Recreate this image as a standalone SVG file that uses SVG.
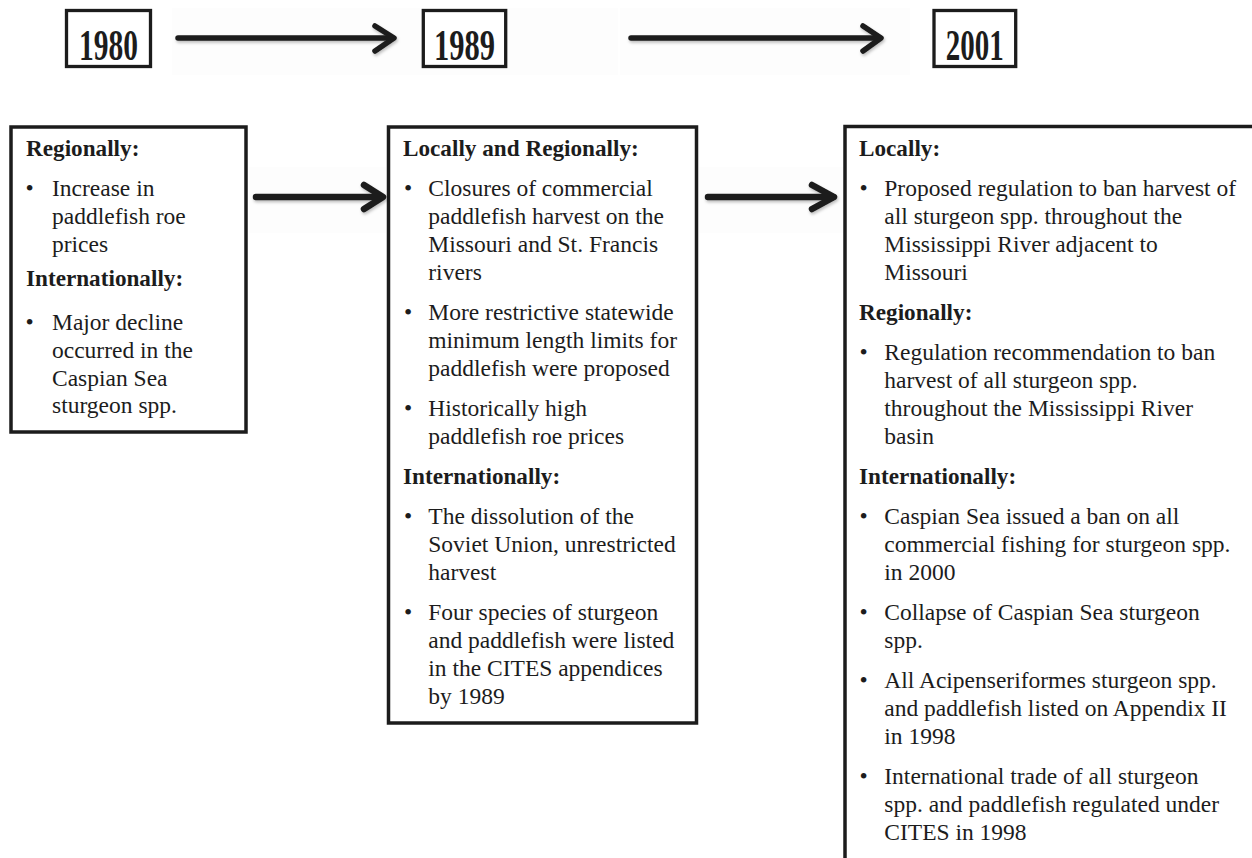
<svg xmlns="http://www.w3.org/2000/svg" width="1252" height="858" viewBox="0 0 1252 858">
<style>
  text { font-family: "Liberation Serif", "Times New Roman", serif; fill: #1c1c1c; }
  .h { font-size: 23.2px; font-weight: bold; }
  .b { font-size: 23.5px; }
  .yr { font-size: 45px; font-weight: bold; text-anchor: middle; }
  .bul { text-anchor: middle; font-size: 23.5px; }
  .box { fill: #ffffff; stroke: #1c1c1c; stroke-width: 3.5; }
  .ybox { fill: #ffffff; stroke: #1c1c1c; stroke-width: 3.3; }
  .arr { fill: none; stroke: #1c1c1c; stroke-linecap: round; stroke-linejoin: round; }
  .bg { fill: #fdfdfd; }
</style>
<defs>
  <filter id="sh" x="-10%" y="-50%" width="120%" height="200%">
    <feDropShadow dx="1" dy="2" stdDeviation="1.5" flood-color="#000" flood-opacity="0.25"/>
  </filter>
</defs>
<rect width="1252" height="858" fill="#ffffff"/>
<!-- faint backgrounds behind arrows -->
<rect class="bg" x="172" y="8" width="446" height="67"/>
<rect class="bg" x="620" y="8" width="290" height="67"/>
<rect class="bg" x="249" y="167" width="137" height="66"/>
<rect class="bg" x="699" y="167" width="144" height="66"/>

<g id="year-1980">
  <rect class="ybox" x="66.5" y="10.5" width="84" height="56"/>
  <text class="yr" x="108.5" y="60" textLength="59" lengthAdjust="spacingAndGlyphs">1980</text>
</g>
<g id="year-1989">
  <rect class="ybox" x="423.3" y="10.5" width="82.4" height="56"/>
  <text class="yr" x="464.5" y="60" textLength="61" lengthAdjust="spacingAndGlyphs">1989</text>
</g>
<g id="year-2001">
  <rect class="ybox" x="934" y="10.5" width="81.7" height="56"/>
  <text class="yr" x="974.8" y="60" textLength="58" lengthAdjust="spacingAndGlyphs">2001</text>
</g>

<g id="box-1980">
  <rect class="box" x="11" y="127" width="235" height="305"/>
  <text class="h" x="26" y="156">Regionally:</text>
  <text class="bul" x="29.5" y="196">•</text>
  <text class="b" x="52" y="196">Increase in</text>
  <text class="b" x="52" y="224">paddlefish roe</text>
  <text class="b" x="52" y="252">prices</text>
  <text class="h" x="26" y="286">Internationally:</text>
  <text class="bul" x="29.5" y="330">•</text>
  <text class="b" x="52" y="330">Major decline</text>
  <text class="b" x="52" y="358">occurred in the</text>
  <text class="b" x="52" y="386">Caspian Sea</text>
  <text class="b" x="52" y="413">sturgeon spp.</text>
</g>

<g id="box-1989">
  <rect class="box" x="388.5" y="127" width="308" height="596"/>
  <text class="h" x="403" y="156">Locally and Regionally:</text>
  <text class="bul" x="408" y="196">•</text>
  <text class="b" x="428.3" y="196">Closures of commercial</text>
  <text class="b" x="428.3" y="224">paddlefish harvest on the</text>
  <text class="b" x="428.3" y="252">Missouri and St. Francis</text>
  <text class="b" x="428.3" y="280">rivers</text>
  <text class="bul" x="408" y="320">•</text>
  <text class="b" x="428.3" y="320">More restrictive statewide</text>
  <text class="b" x="428.3" y="348">minimum length limits for</text>
  <text class="b" x="428.3" y="376">paddlefish were proposed</text>
  <text class="bul" x="408" y="416">•</text>
  <text class="b" x="428.3" y="416">Historically high</text>
  <text class="b" x="428.3" y="444">paddlefish roe prices</text>
  <text class="h" x="403" y="484">Internationally:</text>
  <text class="bul" x="408" y="524">•</text>
  <text class="b" x="428.3" y="524">The dissolution of the</text>
  <text class="b" x="428.3" y="552">Soviet Union, unrestricted</text>
  <text class="b" x="428.3" y="580">harvest</text>
  <text class="bul" x="408" y="620">•</text>
  <text class="b" x="428.3" y="620">Four species of sturgeon</text>
  <text class="b" x="428.3" y="648">and paddlefish were listed</text>
  <text class="b" x="428.3" y="676">in the CITES appendices</text>
  <text class="b" x="428.3" y="704">by 1989</text>
</g>

<g id="box-2001">
  <path class="box" d="M 1253 126.5 H 845 V 859" fill="none"/>
  <text class="h" x="859" y="156">Locally:</text>
  <text class="bul" x="863.5" y="196">•</text>
  <text class="b" x="884.3" y="196">Proposed regulation to ban harvest of</text>
  <text class="b" x="884.3" y="224">all sturgeon spp. throughout the</text>
  <text class="b" x="884.3" y="252">Mississippi River adjacent to</text>
  <text class="b" x="884.3" y="280">Missouri</text>
  <text class="h" x="859" y="320">Regionally:</text>
  <text class="bul" x="863.5" y="360">•</text>
  <text class="b" x="884.3" y="360">Regulation recommendation to ban</text>
  <text class="b" x="884.3" y="388">harvest of all sturgeon spp.</text>
  <text class="b" x="884.3" y="416">throughout the Mississippi River</text>
  <text class="b" x="884.3" y="444">basin</text>
  <text class="h" x="859" y="484">Internationally:</text>
  <text class="bul" x="863.5" y="524">•</text>
  <text class="b" x="884.3" y="524">Caspian Sea issued a ban on all</text>
  <text class="b" x="884.3" y="552">commercial fishing for sturgeon spp.</text>
  <text class="b" x="884.3" y="580">in 2000</text>
  <text class="bul" x="863.5" y="620">•</text>
  <text class="b" x="884.3" y="620">Collapse of Caspian Sea sturgeon</text>
  <text class="b" x="884.3" y="648">spp.</text>
  <text class="bul" x="863.5" y="688">•</text>
  <text class="b" x="884.3" y="688">All Acipenseriformes sturgeon spp.</text>
  <text class="b" x="884.3" y="716">and paddlefish listed on Appendix II</text>
  <text class="b" x="884.3" y="744">in 1998</text>
  <text class="bul" x="863.5" y="784">•</text>
  <text class="b" x="884.3" y="784">International trade of all sturgeon</text>
  <text class="b" x="884.3" y="812">spp. and paddlefish regulated under</text>
  <text class="b" x="884.3" y="840">CITES in 1998</text>
</g>

<g id="connectors" filter="url(#sh)">
  <g class="arr" stroke-width="5.5">
    <path d="M 178 38 H 392"/>
    <path d="M 375 26 L 394 38 L 375 51"/>
    <path d="M 631 38 H 879"/>
    <path d="M 863 26 L 881 38 L 863 51"/>
  </g>
  <g class="arr" stroke-width="6.5">
    <path d="M 256 197 H 381"/>
    <path d="M 364 185 L 383 197 L 364 209"/>
    <path d="M 708 197 H 833"/>
    <path d="M 812 185 L 834 197 L 812 209"/>
  </g>
</g>
</svg>
